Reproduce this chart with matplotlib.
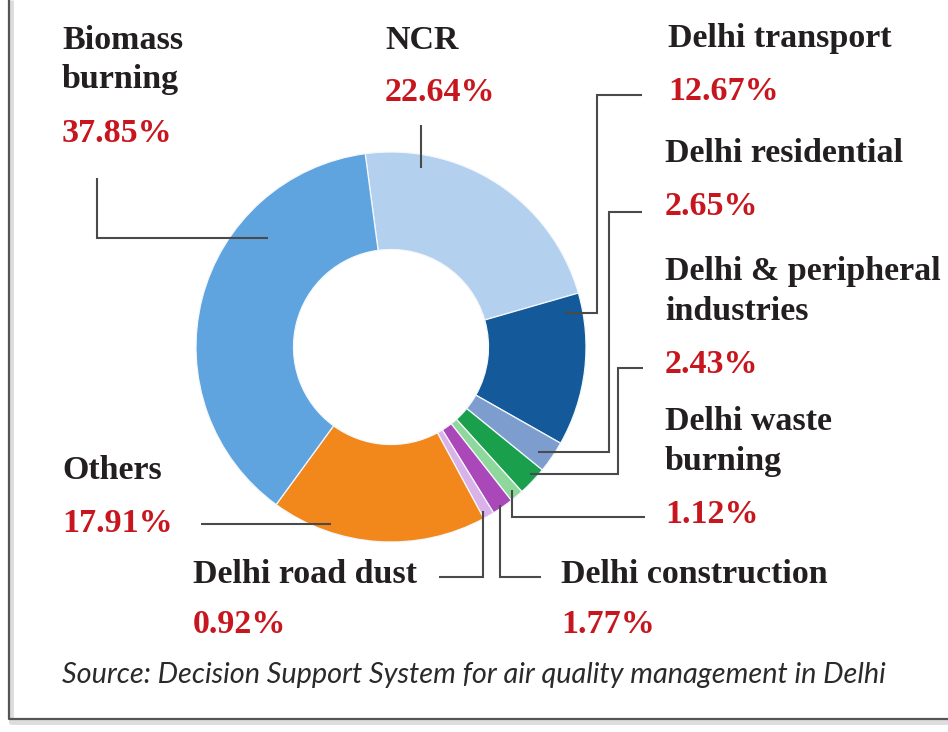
import matplotlib
matplotlib.use("Agg")
import matplotlib.pyplot as plt

# ---- data ----
categories = ["NCR", "Delhi transport", "Delhi residential",
              "Delhi & peripheral\nindustries", "Delhi waste\nburning",
              "Delhi construction", "Delhi road dust", "Others",
              "Biomass\nburning"]
shares = [22.64, 12.67, 2.65, 2.43, 1.12, 1.77, 0.92, 17.91, 37.85]
colors = ["#B3D0EE", "#14599A", "#7E9DCF", "#1AA04C", "#8FD89B",
          "#AA48BA", "#D8B2E8", "#F2881B", "#5FA3DF"]
source = "Source: Decision Support System for air quality management in Delhi"

W, H = 948, 732
fig = plt.figure(figsize=(W / 100, H / 100), dpi=100)
fig.patch.set_facecolor("white")

# ---- donut ----
cx, cy, R = 391, 347, 195
ax = fig.add_axes([(cx - R) / W, (H - cy - R) / H, 2 * R / W, 2 * R / H])
ax.pie(shares, colors=colors, startangle=97.6, counterclock=False, radius=1.0,
       wedgeprops=dict(width=0.5, edgecolor="#F4F8FC", linewidth=0.9))
ax.set_xlim(-1, 1)
ax.set_ylim(-1, 1)
ax.set_aspect("equal")
ax.axis("off")

# ---- overlay in pixel coordinates ----
ov = fig.add_axes([0, 0, 1, 1], facecolor="none")
ov.set_xlim(0, W)
ov.set_ylim(H, 0)
ov.axis("off")

# frame
ov.plot([11, 11, W], [0, 722, 722], color="#DDDDDD", lw=3.5, solid_capstyle="butt")
ov.plot([9, 9, W], [0, 719, 719], color="#555555", lw=1.6, solid_capstyle="butt")

# label layout: x, baselines of name lines, baseline of percentage
layout = {
    "NCR": (385, [49], 101),
    "Delhi transport": (668, [47], 100),
    "Delhi residential": (665, [162], 215),
    "Delhi & peripheral\nindustries": (665, [280, 320], 373),
    "Delhi waste\nburning": (665, [430, 470], 523),
    "Delhi construction": (561, [583], 633),
    "Delhi road dust": (193, [583], 633),
    "Others": (62, [479], 532),
    "Biomass\nburning": (62, [49, 88], 142),
}
leaders = {
    "NCR": [(421, 125), (421, 168)],
    "Delhi transport": [(642, 95), (597, 95), (597, 313), (565, 313)],
    "Delhi residential": [(642, 212), (609, 212), (609, 452), (538, 452)],
    "Delhi & peripheral\nindustries": [(643, 368), (618, 368), (618, 474), (530, 474)],
    "Delhi waste\nburning": [(645, 517), (512, 517), (512, 490)],
    "Delhi construction": [(541, 577), (500, 577), (500, 505)],
    "Delhi road dust": [(439, 577), (483, 577), (483, 511)],
    "Others": [(201, 524), (331, 524)],
    "Biomass\nburning": [(97, 178), (97, 238), (268, 238)],
}

label_font = dict(family=["Liberation Serif", "DejaVu Serif"], fontweight="bold",
                  fontsize=24.5)
for name, val in zip(categories, shares):
    x, bases, pb = layout[name]
    for line, b in zip(name.split("\n"), bases):
        ov.text(x, b, line, color="#231F20", va="baseline", ha="left", **label_font)
    ov.text(x, pb, f"{val:.2f}%", color="#C8161F", va="baseline", ha="left",
            **label_font)
    xs, ys = zip(*leaders[name])
    ov.plot(xs, ys, color="#4A4A4A", lw=1.5, solid_joinstyle="miter",
            solid_capstyle="butt")

ov.text(62, 683, source, family=["Lato", "DejaVu Sans"], style="italic",
        fontsize=20.8, color="#2A2A2A", va="baseline", ha="left")

fig.savefig("out.png", dpi=100, facecolor="white")
